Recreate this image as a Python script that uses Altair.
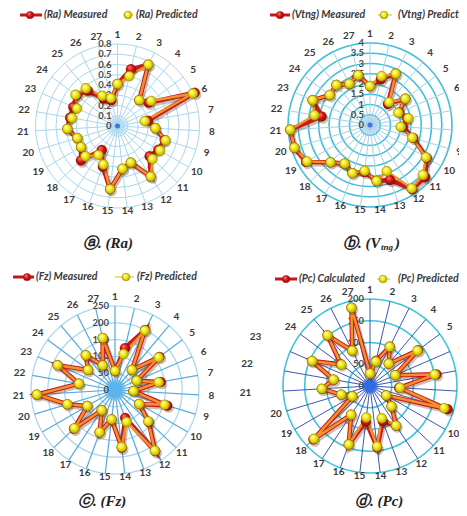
import math
import altair as alt
import pandas as pd

# ---------------- data ----------------
categories = [str(i) for i in range(1, 28)]

ra_measured = [0.41, 0.57, 0.67, 0.33, 0.38, 0.82, 0.30, 0.37, 0.48, 0.46, 0.43, 0.59, 0.38, 0.42,
               0.62, 0.42, 0.28, 0.49, 0.41, 0.41, 0.49, 0.47, 0.47, 0.50, 0.45, 0.30, 0.26]
ra_predicted = [0.41, 0.50, 0.67, 0.33, 0.41, 0.80, 0.27, 0.37, 0.49, 0.48, 0.47, 0.59, 0.38, 0.42,
                0.62, 0.40, 0.34, 0.43, 0.41, 0.41, 0.49, 0.45, 0.43, 0.51, 0.48, 0.33, 0.28]

vtng_measured = [1.90, 2.30, 2.80, 1.35, 2.15, 1.55, 1.85, 1.60, 2.20, 3.20, 3.70, 3.75, 2.85, 2.75,
                 2.30, 2.50, 2.25, 2.65, 3.60, 3.85, 3.90, 2.40, 3.05, 2.45, 2.55, 2.25, 2.50]
vtng_predicted = [1.90, 2.45, 2.80, 1.45, 2.15, 1.50, 1.90, 1.50, 2.15, 3.15, 3.55, 3.70, 2.40, 2.75,
                  2.25, 2.50, 2.25, 2.65, 3.55, 3.85, 3.90, 2.75, 3.05, 2.45, 2.55, 2.25, 2.50]

fz_measured = [57, 128, 200, 78, 165, 70, 138, 55, 162, 83, 138, 218, 88, 173,
               88, 134, 72, 168, 95, 148, 233, 109, 186, 100, 135, 82, 159]
fz_predicted = [57, 110, 198, 78, 162, 70, 132, 55, 154, 83, 136, 216, 101, 171,
                88, 134, 72, 166, 95, 148, 233, 109, 186, 100, 135, 82, 159]

pc_calculated = [29, 60, 101, 67, 138, 63, 155, 67, 186, 43, 68, 109, 86, 142,
                 82, 143, 79, 179, 47, 69, 111, 85, 145, 84, 152, 91, 185]
pc_predicted = [29, 58, 101, 67, 136, 63, 151, 69, 178, 43, 68, 109, 79, 140,
                73, 143, 79, 177, 47, 69, 111, 85, 145, 82, 152, 91, 185]

ra_ticks = ["0", "0.1", "0.2", "0.3", "0.4", "0.5", "0.6", "0.7", "0.8"]
vtng_ticks = ["0", "0.5", "1", "1.5", "2", "2.5", "3", "3.5", "4"]
fz_ticks = ["0", "50", "100", "150", "200", "250"]
pc_ticks = ["0", "50", "100", "150", "200"]

# ---------------- layout / style per panel ----------------
panels = [
    dict(panel="a", cx=117.5, cy=126, R=82, vmax=0.8, ticks=ra_ticks,
         meas=ra_measured, pred=ra_predicted,
         meas_name="(Ra) Measured", pred_name="(Ra) Predicted",
         ring="#a9d7eb", ring_w=1.0, spoke="#a9d7eb", spoke_w=1.0,
         glow="#d3e4f6", glow_r=9, hub="#3b78dc", hub_r=2.5,
         leg_y=15, leg=(20, 42, 30, 44, 123, 133, 128, 136)),
    dict(panel="b", cx=370, cy=125, R=82, vmax=4.0, ticks=vtng_ticks,
         meas=vtng_measured, pred=vtng_predicted,
         meas_name="(Vtng) Measured", pred_name="(Vtng) Predicted",
         ring="#3fbfd8", ring_w=1.6, spoke="#a3d0e6", spoke_w=1.0,
         glow="#d3e4f6", glow_r=9, hub="#3b78dc", hub_r=2.5,
         leg_y=15, leg=(270, 290, 280, 292, 378, 392, 384, 398)),
    dict(panel="c", cx=115, cy=390, R=84, vmax=250, ticks=fz_ticks,
         meas=fz_measured, pred=fz_predicted,
         meas_name="(Fz) Measured", pred_name="(Fz) Predicted",
         ring="#a3d6ec", ring_w=1.2, spoke="#56aadc", spoke_w=1.2,
         glow="#9fd2f6", glow_r=11, hub="#5ab5ef", hub_r=8,
         leg_y=277, leg=(13, 34, 27, 36, 115, 134, 126, 137)),
    dict(panel="d", cx=370, cy=386, R=87, vmax=200, ticks=pc_ticks,
         meas=pc_calculated, pred=pc_predicted,
         meas_name="(Pc) Calculated", pred_name="(Pc) Predicted",
         ring="#3ec5da", ring_w=1.6, spoke="#3a57b4", spoke_w=1.0,
         glow="#7aa6ee", glow_r=8, hub="#2d6ce4", hub_r=6,
         leg_y=279, leg=(275, 297, 286, 299, 377, 390, 383, 398)),
]

captions = [
    ("ⓐ. (Ra)", 83, 243, 15),
    ("ⓑ. (V", 343, 243, 15),
    ("tng", 381, 247, 9),
    (")", 395, 243, 15),
    ("ⓒ. (Fz)", 78, 501, 15),
    ("ⓓ. (Pc)", 355, 501, 15),
]

# ---------------- tables ----------------
series_rows, ring_rows, spoke_rows, label_rows, tick_rows = [], [], [], [], []
hub_rows, leg_line_rows, leg_dot_rows, leg_text_rows = [], [], [], []
for p in panels:
    base = dict(panel=p["panel"], cx=p["cx"], cy=p["cy"], R=p["R"], vmax=p["vmax"])
    for i, (m, q) in enumerate(zip(p["meas"], p["pred"]), start=1):
        series_rows.append(dict(base, series="meas", idx=i, value=m))
        series_rows.append(dict(base, series="pred", idx=i, value=q))
    n = len(p["ticks"]) - 1
    for k, t in enumerate(p["ticks"]):
        tick_rows.append(dict(base, k=k, n=n, text=t))
        if k > 0:
            ring_rows.append(dict(base, k=k, n=n, color=p["ring"], sw=p["ring_w"]))
    for i, c in enumerate(categories, start=1):
        spoke_rows.append(dict(base, idx=i, color=p["spoke"], sw=p["spoke_w"]))
        extra = 25 if (p["panel"] == "d" and i in (21, 22, 23)) else 0
        label_rows.append(dict(base, idx=i, text=c, extra=extra))
    hub_rows.append(dict(base, sz=4 * p["glow_r"] ** 2, color=p["glow"], layer=0))
    hub_rows.append(dict(base, sz=4 * p["hub_r"] ** 2, color=p["hub"], layer=1))
    rx1, rx2, rdot, rtx, yx1, yx2, ydot, ytx = p["leg"]
    y = p["leg_y"]
    leg_line_rows.append(dict(px=rx1, px2=rx2, py=y, color="#c8141c", sw=3.0))
    leg_line_rows.append(dict(px=yx1, px2=yx2, py=y, color="#e8d64a", sw=1.5))
    leg_dot_rows.append(dict(px=rdot, py=y, series="meas"))
    leg_dot_rows.append(dict(px=ydot, py=y, series="pred"))
    leg_text_rows.append(dict(px=rtx, py=y, text=p["meas_name"]))
    leg_text_rows.append(dict(px=ytx, py=y, text=p["pred_name"]))

series_df = pd.DataFrame(series_rows)
ring_df = pd.DataFrame(ring_rows)
spoke_df = pd.DataFrame(spoke_rows)
label_df = pd.DataFrame(label_rows)
tick_df = pd.DataFrame(tick_rows)
hub_df = pd.DataFrame(hub_rows)
leg_line_df = pd.DataFrame(leg_line_rows)
leg_dot_df = pd.DataFrame(leg_dot_rows)
leg_text_df = pd.DataFrame(leg_text_rows)
cap_df = pd.DataFrame(captions, columns=["text", "px", "py", "fs"])

# ---------------- scales ----------------
W, H = 451, 500
xs = alt.Scale(domain=[8, 8 + W], range=[0, W], nice=False, zero=False)
ys = alt.Scale(domain=[8, 8 + H], range=[0, H], nice=False, zero=False)


def X(f):
    return alt.X(f, type="quantitative", scale=xs, axis=None)


def Y(f):
    return alt.Y(f, type="quantitative", scale=ys, axis=None)


LABEL_FONT = "Lato"

glow = alt.Chart(hub_df).transform_filter("datum.layer == 0").mark_circle(opacity=0.85).encode(
    x=X("cx"), y=Y("cy"), size=alt.Size("sz:Q", scale=None), color=alt.Color("color:N", scale=None))

rings = alt.Chart(ring_df).transform_calculate(
    rr="datum.R * datum.k / datum.n", sz="4 * datum.rr * datum.rr"
).mark_point(shape="circle", filled=False, opacity=1).encode(
    x=X("cx"), y=Y("cy"), size=alt.Size("sz:Q", scale=None),
    color=alt.Color("color:N", scale=None), strokeWidth=alt.StrokeWidth("sw:Q", scale=None))

spokes = alt.Chart(spoke_df).transform_calculate(
    ang="(datum.idx - 1) * 2 * PI / 27",
    px2="datum.cx + datum.R * sin(datum.ang)",
    py2="datum.cy - datum.R * cos(datum.ang)",
).mark_rule().encode(
    x=X("cx"), y=Y("cy"), x2=alt.X2("px2:Q"), y2=alt.Y2("py2:Q"),
    color=alt.Color("color:N", scale=None), strokeWidth=alt.StrokeWidth("sw:Q", scale=None))

hub = alt.Chart(hub_df).transform_filter("datum.layer == 1").mark_circle(opacity=1).encode(
    x=X("cx"), y=Y("cy"), size=alt.Size("sz:Q", scale=None), color=alt.Color("color:N", scale=None))

ticks = alt.Chart(tick_df).transform_calculate(
    py="datum.cy - datum.R * datum.k / datum.n"
).mark_text(align="right", baseline="middle", dx=-6, font=LABEL_FONT, fontWeight="bold",
            fontSize=9.5, color="#4a4a4a").encode(x=X("cx"), y=Y("py"), text="text:N")

cat_labels = alt.Chart(label_df).transform_calculate(
    ang="(datum.idx - 1) * 2 * PI / 27",
    lr="datum.R + 9 + 4 * abs(sin(datum.ang)) - 6 * max(0, -cos(datum.ang)) + datum.extra",
    px="datum.cx + datum.lr * sin(datum.ang)",
    py="datum.cy - datum.lr * cos(datum.ang)",
).mark_text(align="center", baseline="middle", font=LABEL_FONT, fontWeight="bold",
            fontSize=10, color="#3a3a3a").encode(x=X("px"), y=Y("py"), text="text:N")

series = alt.Chart(series_df).transform_calculate(
    ang="(datum.idx - 1) * 2 * PI / 27",
    rr="datum.R * datum.value / datum.vmax",
    px="datum.cx + datum.rr * sin(datum.ang)",
    py="datum.cy - datum.rr * cos(datum.ang)",
)
meas = series.transform_filter("datum.series == 'meas'")
pred = series.transform_filter("datum.series == 'pred'")

enc = dict(x=X("px"), y=Y("py"))

shadow_line = meas.mark_line(interpolate="linear-closed", color="#5a2a10", opacity=0.3,
                             strokeWidth=5, xOffset=1.5, yOffset=2).encode(
    detail="panel:N", order="idx:Q", **enc)
meas_line = meas.mark_line(interpolate="linear-closed", color="#c81a1a", strokeWidth=4.5).encode(
    detail="panel:N", order="idx:Q", **enc)
pred_line = pred.mark_line(interpolate="linear-closed", color="#f0922e", strokeWidth=2.5).encode(
    detail="panel:N", order="idx:Q", **enc)

red_grad = {"gradient": "radial", "x1": 0.35, "y1": 0.3, "r1": 0.0, "x2": 0.5, "y2": 0.5, "r2": 0.6,
            "stops": [{"offset": 0, "color": "#ff8a7a"}, {"offset": 0.45, "color": "#d81818"},
                      {"offset": 1, "color": "#7a0000"}]}
yel_grad = {"gradient": "radial", "x1": 0.35, "y1": 0.3, "r1": 0.0, "x2": 0.5, "y2": 0.5, "r2": 0.6,
            "stops": [{"offset": 0, "color": "#ffffd8"}, {"offset": 0.45, "color": "#f4ea14"},
                      {"offset": 1, "color": "#a89600"}]}

pt_shadow = meas.mark_circle(size=110, color="#4a2a10", opacity=0.3, xOffset=1.5, yOffset=2).encode(**enc)
meas_pts = meas.mark_circle(size=105, fill=red_grad, opacity=1).encode(**enc)
pred_pts = pred.mark_circle(size=98, fill=yel_grad, stroke="#8f8200", strokeWidth=0.5,
                            opacity=1).encode(**enc)

leg_lines = alt.Chart(leg_line_df).mark_rule().encode(
    x=X("px"), x2=alt.X2("px2:Q"), y=Y("py"),
    color=alt.Color("color:N", scale=None), strokeWidth=alt.StrokeWidth("sw:Q", scale=None))
leg_red = alt.Chart(leg_dot_df).transform_filter("datum.series == 'meas'").mark_circle(
    size=60, fill=red_grad, opacity=1).encode(x=X("px"), y=Y("py"))
leg_yel = alt.Chart(leg_dot_df).transform_filter("datum.series == 'pred'").mark_circle(
    size=60, fill=yel_grad, stroke="#8f8200", strokeWidth=0.5, opacity=1).encode(x=X("px"), y=Y("py"))
leg_text = alt.Chart(leg_text_df).mark_text(
    align="left", baseline="middle", font=LABEL_FONT, fontWeight="bold", fontStyle="italic",
    fontSize=10.5, color="#3a3a3a").encode(x=X("px"), y=Y("py"), text="text:N")

caps = alt.Chart(cap_df).mark_text(
    align="left", baseline="middle", font="Liberation Serif", fontWeight="bold",
    fontStyle="italic", color="#222222").encode(
    x=X("px"), y=Y("py"), text="text:N", size=alt.Size("fs:Q", scale=None))

chart = alt.layer(
    glow, rings, spokes, hub, ticks, cat_labels,
    shadow_line, meas_line, pred_line, pt_shadow, meas_pts, pred_pts,
    leg_lines, leg_red, leg_yel, leg_text, caps,
).properties(
    width=W, height=H, padding=0, autosize=alt.AutoSizeParams(type="none"),
    background="white",
).configure_view(stroke=None)

chart.save("out.html", embed_options={"renderer": "svg", "actions": False})
